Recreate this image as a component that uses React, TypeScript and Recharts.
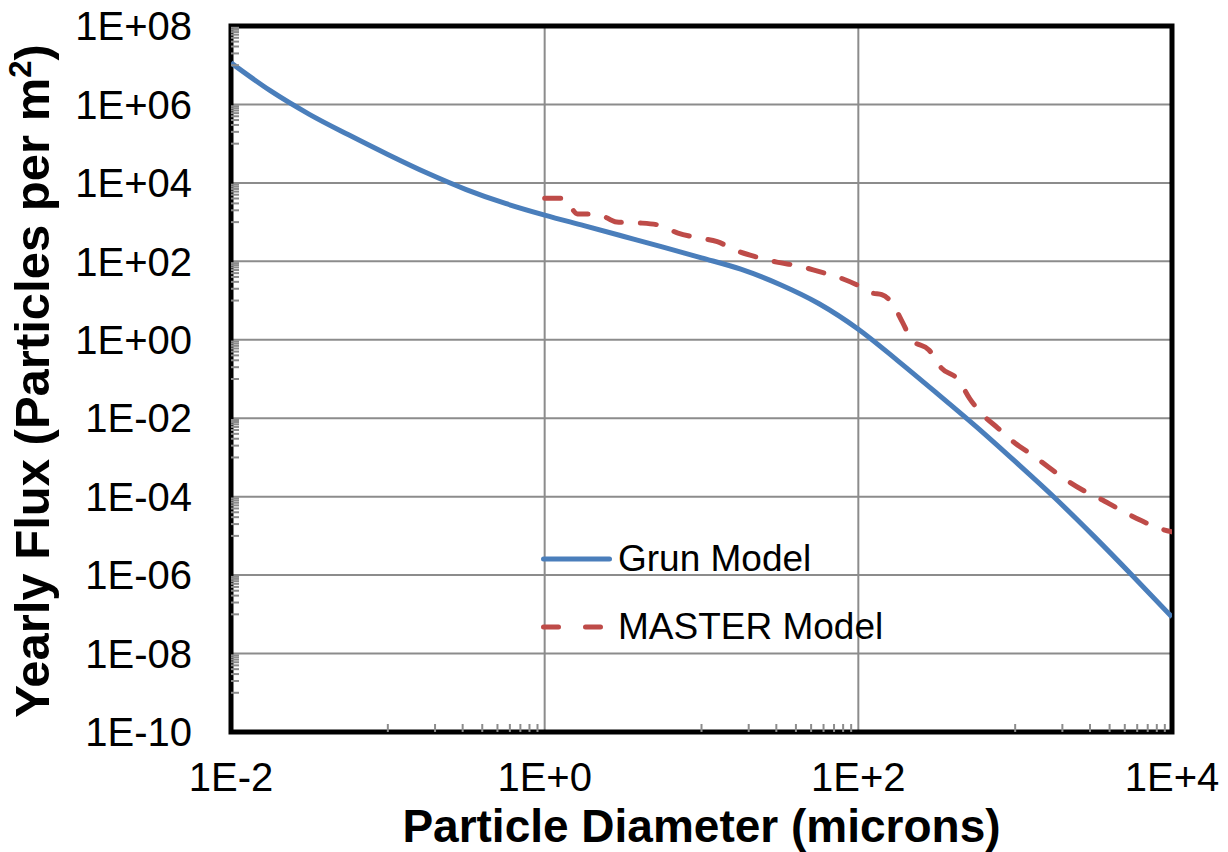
import {
  LineChart,
  Line,
  XAxis,
  YAxis,
  CartesianGrid,
  ReferenceArea,
  Legend,
  Label,
} from 'recharts';

const FONT = '"Liberation Sans", Arial, Helvetica, sans-serif';

// Grun model (diameter in microns, yearly flux per m2)
const grunDiameter = [
  0.01, 0.0178, 0.0316, 0.0562, 0.1, 0.178, 0.316, 0.562, 1, 1.78,
  3.16, 5.62, 10, 17.8, 31.6, 56.2, 100, 178, 316, 562,
  1000, 1780, 3160, 5620, 10000,
];
const grunFlux = [
  1.15e7, 2.24e6, 5.6e5, 1.68e5, 5.3e4, 1.78e4, 6760, 2990, 1510, 813,
  437, 234, 123, 63, 25.7, 8.3, 1.86, 0.295, 0.0437, 6.2e-3,
  7.9e-4, 9.5e-5, 1e-5, 9.5e-7, 8.5e-8,
];

// MASTER model
const masterDiameter = [
  1, 1.32, 1.62, 2.19, 2.88, 3.98, 5.25, 7.08, 9.44, 12.6,
  17, 22.4, 30.2, 41.7, 55, 74, 98, 123, 141, 164,
  191, 219, 282, 339, 437, 513, 617, 776, 1000, 1290,
  1620, 2140, 2690, 3630, 4680, 6310, 8130, 10000,
];
const masterFlux = [
  4070, 4070, 1620, 1580, 1000, 955, 851, 525, 398, 316,
  182, 129, 95.5, 75.9, 56.2, 39.8, 25.1, 15.5, 14.1, 8.7,
  2.82, 1.0, 0.55, 0.19, 0.093, 0.0316, 0.0126, 5.6e-3, 2.3e-3, 1.15e-3,
  5.8e-4, 2.6e-4, 1.48e-4, 8.1e-5, 4.6e-5, 2.5e-5, 1.6e-5, 1.26e-5,
];

// axis ticks
const xTicks = [0.01, 1, 100, 10000];
const yTicks = [1e-10, 1e-8, 1e-6, 1e-4, 1e-2, 1, 1e2, 1e4, 1e6, 1e8];
const minorSteps = [1, 2, 3, 4, 5, 6, 7, 8, 9];
const xMinorDecades = [0.1, 10, 1000];
const yMinorDecades = [1e-9, 1e-7, 1e-5, 1e-3, 1e-1, 1e1, 1e3, 1e5, 1e7];

const xMinorTicks = xMinorDecades.flatMap((d) => minorSteps.map((n) => n * d));
const yMinorTicks = yMinorDecades.flatMap((d) => minorSteps.map((n) => n * d));

const grunData = grunDiameter.map((x, i) => ({ x, y: grunFlux[i] }));
const masterData = masterDiameter.map((x, i) => ({ x, y: masterFlux[i] }));

const GRID = '#8c8c8c';
const BLUE = '#4a7ebb';
const RED = '#be4b48';

const expLabel = (v: number, pad: boolean) => {
  const e = Math.round(Math.log10(v));
  const digits = pad ? String(Math.abs(e)).padStart(2, '0') : String(Math.abs(e));
  return `1E${e < 0 ? '-' : '+'}${digits}`;
};

// legend keeps its own dash spacing (wider than on the curve)
const renderLegend = (props: any) => {
  const { payload } = props;
  return (
    <svg width={380} height={130} style={{ display: 'block' }}>
      {payload.map((entry: any, i: number) => {
        const cy = 39 + i * 68;
        const dashed = i > 0;
        return (
          <g key={`legend-${i}`}>
            <line
              x1={13.5}
              x2={dashed ? 71.5 : 79.5}
              y1={cy}
              y2={cy}
              stroke={entry.color}
              strokeWidth={5}
              strokeLinecap="round"
              strokeDasharray={dashed ? '15 27' : undefined}
            />
            <text x={88} y={cy + 12} fontSize={37} fontFamily={FONT} fill="#000">
              {entry.value}
            </text>
          </g>
        );
      })}
    </svg>
  );
};

const App = () => {
  return (
    <div style={{ position: 'absolute', left: 0, top: 0 }}>
      <LineChart width={1228} height={852} margin={{ top: 26, right: 56, bottom: 0, left: 0 }}>
        <CartesianGrid stroke={GRID} strokeWidth={2} />
        <XAxis
          xAxisId="minor"
          type="number"
          dataKey="x"
          scale="log"
          domain={[0.01, 10000]}
          allowDataOverflow
          ticks={xMinorTicks}
          interval={0}
          mirror
          tickSize={8}
          tickLine={{ stroke: GRID, strokeWidth: 2 }}
          axisLine={false}
          tickFormatter={() => ''}
        />
        <XAxis
          type="number"
          dataKey="x"
          scale="log"
          domain={[0.01, 10000]}
          allowDataOverflow
          ticks={xTicks}
          interval={0}
          height={120}
          tickSize={0}
          tickMargin={31}
          tickLine={false}
          axisLine={false}
          tick={{ fill: '#000', fontSize: 40, fontFamily: FONT }}
          tickFormatter={(v: number) => expLabel(v, false)}
        >
          <Label
            content={({ viewBox }: any) => (
              <text
                x={viewBox.x + viewBox.width / 2}
                y={viewBox.y + 110}
                textAnchor="middle"
                fontSize={46}
                fontWeight="bold"
                fontFamily={FONT}
                fill="#000"
              >
                Particle Diameter (microns)
              </text>
            )}
          />
        </XAxis>
        <YAxis
          yAxisId="minor"
          type="number"
          scale="log"
          domain={[1e-10, 1e8]}
          allowDataOverflow
          ticks={yMinorTicks}
          interval={0}
          mirror
          tickSize={8}
          tickLine={{ stroke: GRID, strokeWidth: 2 }}
          axisLine={false}
          tickFormatter={() => ''}
        />
        <YAxis
          type="number"
          scale="log"
          domain={[1e-10, 1e8]}
          allowDataOverflow
          ticks={yTicks}
          interval={0}
          width={231}
          tickSize={0}
          tickMargin={39}
          tickLine={false}
          axisLine={false}
          tick={{ fill: '#000', fontSize: 40, fontFamily: FONT }}
          tickFormatter={(v: number) => expLabel(v, true)}
        >
          <Label
            content={({ viewBox }: any) => {
              const cx = viewBox.x + 49;
              const cy = viewBox.y + viewBox.height / 2 + 2;
              return (
                <text
                  x={cx}
                  y={cy}
                  transform={`rotate(-90, ${cx}, ${cy})`}
                  textAnchor="middle"
                  fontSize={49}
                  fontWeight="bold"
                  fontFamily={FONT}
                  fill="#000"
                >
                  Yearly Flux (Particles per m
                  <tspan fontSize={31} dy={-18}>2</tspan>
                  <tspan dy={18}>)</tspan>
                </text>
              );
            }}
          />
        </YAxis>
        <ReferenceArea
          x1={0.01}
          x2={10000}
          y1={1e-10}
          y2={1e8}
          fill="none"
          stroke="#000"
          strokeWidth={5}
          ifOverflow="visible"
        />
        <Line
          data={grunData}
          dataKey="y"
          name="Grun Model"
          type="monotone"
          stroke={BLUE}
          strokeWidth={5}
          dot={false}
          activeDot={false}
          isAnimationActive={false}
        />
        <Line
          data={masterData}
          dataKey="y"
          name="MASTER Model"
          type="monotone"
          stroke={RED}
          strokeWidth={5}
          strokeDasharray="16 19"
          strokeLinecap="round"
          dot={false}
          activeDot={false}
          isAnimationActive={false}
        />
        <Legend
          layout="vertical"
          align="center"
          verticalAlign="middle"
          content={renderLegend}
          wrapperStyle={{ left: 530, top: 520, width: 380, height: 130 }}
        />
      </LineChart>
    </div>
  );
};

export default App;
